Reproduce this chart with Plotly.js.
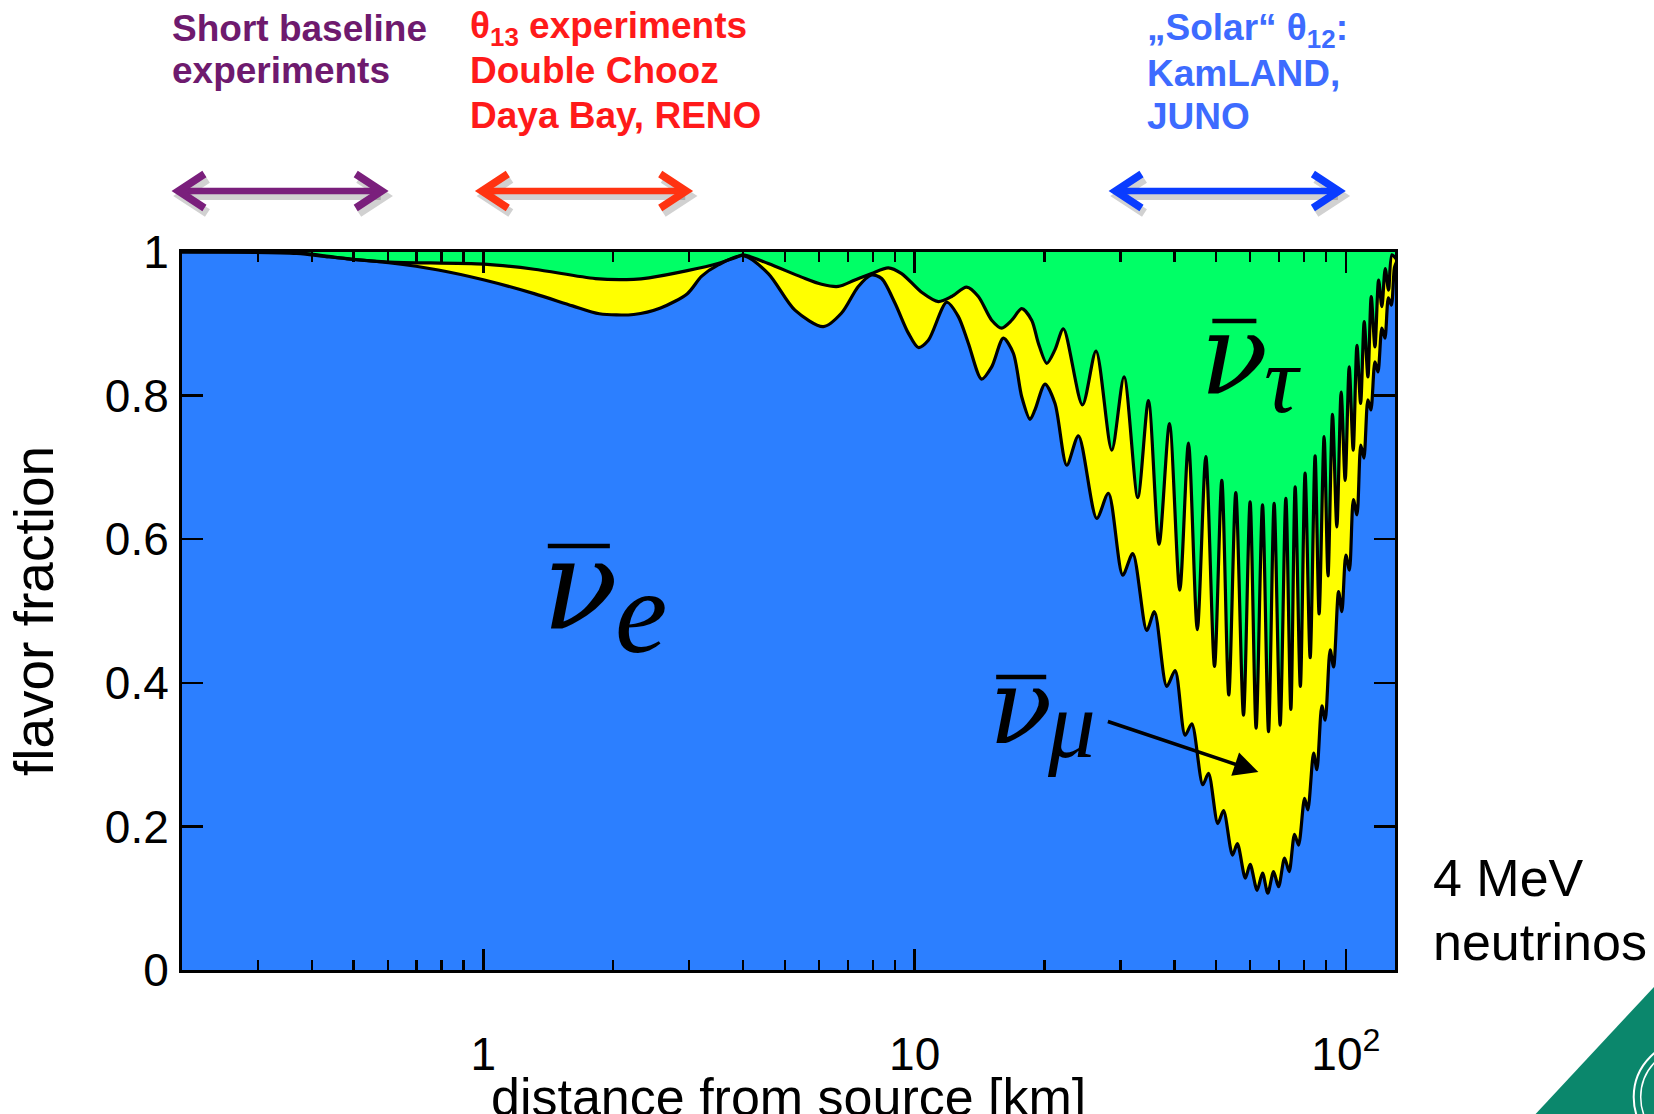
<!DOCTYPE html>
<html><head><meta charset="utf-8">
<script src="https://cdn.plot.ly/plotly-3.0.1.min.js"></script>
<style>html,body{margin:0;padding:0;background:#fff}#chart{width:1654px;height:1114px}</style>
</head><body><div id="chart"></div>
<script>
// Boundary between nu_e (blue) and nu_mu (yellow): P(ee)
const distEe = [
  0.2, 0.369, 0.439, 0.603, 0.786, 1.005, 1.311, 1.609, 1.857, 2.231,
  2.575, 2.971, 3.204, 3.504, 4.005, 4.577, 5.277, 6.141, 6.770, 7.403,
  7.947, 8.384, 9.000, 9.670, 10.20, 10.76, 11.87, 12.63, 13.32, 14.30,
  15.09, 16.06, 16.94, 17.72, 18.52, 19.01, 20.06, 21.16, 22.53, 23.98,
  26.44, 28.14, 30.38, 32.05, 34.53, 35.98, 38.43, 40.18, 42.38, 43.93,
  46.58, 48.02, 50.47, 52.03, 54.59, 56.02, 58.46, 59.98, 62.26, 64.08,
  65.92, 67.97, 69.81, 72.08, 73.87, 76.03, 77.68, 80.21, 81.63, 84.17,
  85.66, 87.97, 89.54, 91.96, 93.65, 96.18, 97.88, 100.0, 101.9, 104.1,
  106.1, 108.3, 110.1, 112.5, 114.3, 116.8, 118.7, 121.2, 123.2, 125.5,
  127.5, 129.6, 131.0];
const fracEe = [
  1.000, 0.998, 0.993, 0.985, 0.975, 0.961, 0.942, 0.925, 0.914, 0.913,
  0.922, 0.942, 0.966, 0.982, 0.995, 0.970, 0.919, 0.896, 0.915, 0.952,
  0.968, 0.963, 0.929, 0.887, 0.867, 0.877, 0.930, 0.910, 0.873, 0.823,
  0.840, 0.880, 0.859, 0.798, 0.767, 0.780, 0.816, 0.789, 0.703, 0.744,
  0.629, 0.664, 0.550, 0.580, 0.473, 0.499, 0.395, 0.417, 0.327, 0.343,
  0.258, 0.274, 0.204, 0.222, 0.160, 0.176, 0.128, 0.147, 0.111, 0.135,
  0.107, 0.137, 0.116, 0.156, 0.137, 0.189, 0.174, 0.239, 0.223, 0.302,
  0.279, 0.368, 0.348, 0.446, 0.422, 0.527, 0.499, 0.578, 0.557, 0.655,
  0.634, 0.731, 0.713, 0.794, 0.780, 0.847, 0.833, 0.894, 0.880, 0.936,
  0.926, 0.978, 0.986];

// Boundary between nu_mu (yellow) and nu_tau (green): P(ee)+P(e mu)
const distEeMu = [
  0.2, 0.369, 0.491, 0.603, 1.005, 1.311, 1.819, 2.231, 2.421, 2.971,
  3.499, 3.875, 4.005, 4.577, 5.468, 6.085, 6.652, 7.270, 7.947, 8.690,
  9.328, 10.38, 11.35, 12.19, 13.20, 14.05, 15.09, 15.92, 16.80, 17.72,
  18.68, 19.36, 20.25, 21.16, 22.13, 24.50, 26.34, 28.65, 30.59, 32.92,
  34.85, 36.88, 38.99, 41.19, 43.15, 45.24, 47.34, 49.59, 51.56, 53.52,
  55.56, 57.89, 59.97, 61.92, 64.08, 66.17, 68.18, 70.41, 72.58, 74.55,
  76.28, 78.43, 80.43, 82.65, 84.85, 86.69, 89.04, 90.91, 93.12, 95.30,
  97.52, 99.63, 101.8, 104.0, 106.1, 108.2, 110.3, 112.5, 114.5, 116.8,
  119.1, 121.2, 123.4, 125.6, 127.9, 131.0];
const fracEeMu = [
  1.000, 0.999, 0.990, 0.986, 0.983, 0.976, 0.963, 0.962, 0.964, 0.974,
  0.984, 0.993, 0.996, 0.984, 0.965, 0.955, 0.952, 0.961, 0.970, 0.978,
  0.970, 0.944, 0.931, 0.938, 0.951, 0.938, 0.905, 0.894, 0.905, 0.921,
  0.905, 0.873, 0.845, 0.864, 0.893, 0.787, 0.862, 0.724, 0.826, 0.658,
  0.793, 0.593, 0.761, 0.529, 0.734, 0.474, 0.715, 0.423, 0.682, 0.383,
  0.665, 0.355, 0.652, 0.337, 0.648, 0.332, 0.650, 0.341, 0.657, 0.363,
  0.673, 0.395, 0.692, 0.435, 0.716, 0.496, 0.743, 0.549, 0.774, 0.617,
  0.805, 0.682, 0.840, 0.724, 0.870, 0.789, 0.903, 0.826, 0.938, 0.868,
  0.961, 0.924, 0.977, 0.947, 0.996, 0.990];

const xRangeKm = [0.2, 130];
const xTickVals = [1, 10, 100];
const xTickText = ['1', '10', '10<sup>2</sup>'];
const xMinorVals = [0.3,0.4,0.5,0.6,0.7,0.8,0.9,2,3,4,5,6,7,8,9,20,30,40,50,60,70,80,90];
const yTickVals = [0, 0.2, 0.4, 0.6, 0.8, 1];
const yTickText = ['0', '0.2', '0.4', '0.6', '0.8', '1'];
const xTitle = 'distance from source [km]';
const yTitle = 'flavor fraction';

// experiment ranges (km) shown as double arrows above the plot
const arrowStartKm = [0.19, 0.96, 28.3];
const arrowEndKm = [0.60, 3.05, 99.5];
const arrowColors = ['#7a1f7c', '#ff3311', '#0a3cff'];

const BLUE = '#2c7fff', YELLOW = '#ffff00', GREEN = '#00ff66';

// page geometry helpers (pixel -> paper)
const PL = 182.5, PW = 1212, PB = 970, PH = 718;
const P = xf => (xf - PL) / PW;
const Q = yf => (PB - yf) / PH;
const lr = [Math.log10(xRangeKm[0]), Math.log10(xRangeKm[1])];
const kmToPaper = d => (Math.log10(d) - lr[0]) / (lr[1] - lr[0]);

const lineStyle = {shape: 'spline', smoothing: 0.8};
const traces = [
  {x: distEeMu, y: fracEeMu, mode: 'lines', fill: 'tozeroy', fillcolor: YELLOW,
   line: Object.assign({width: 0, color: YELLOW}, lineStyle), hoverinfo: 'skip', showlegend: false},
  {x: distEe, y: fracEe, mode: 'lines', fill: 'tozeroy', fillcolor: BLUE,
   line: Object.assign({width: 0, color: BLUE}, lineStyle), hoverinfo: 'skip', showlegend: false},
  {x: distEeMu, y: fracEeMu, mode: 'lines',
   line: Object.assign({width: 3.2, color: '#000'}, lineStyle), showlegend: false},
  {x: distEe, y: fracEe, mode: 'lines',
   line: Object.assign({width: 3.2, color: '#000'}, lineStyle), showlegend: false}
];

const shapes = [];
const arrowY = Q(191);
const headDx = 26 / PW, headDy = 17 / PH, inset = 6 / PW;
for (let i = 0; i < arrowStartKm.length; i++) {
  const xs = kmToPaper(arrowStartKm[i]) + inset, xe = kmToPaper(arrowEndKm[i]) - inset;
  const mk = (ox, oy, col, w) => {
    const y = arrowY + oy;
    shapes.push({type: 'line', xref: 'paper', yref: 'paper', x0: xs + ox + 4 / PW, x1: xe + ox - 4 / PW, y0: y, y1: y,
      line: {color: col, width: w}});
    shapes.push({type: 'path', xref: 'paper', yref: 'paper',
      path: `M ${xs + ox + headDx},${y + headDy} L ${xs + ox},${y} L ${xs + ox + headDx},${y - headDy}`,
      line: {color: col, width: w + 1}});
    shapes.push({type: 'path', xref: 'paper', yref: 'paper',
      path: `M ${xe + ox - headDx},${y + headDy} L ${xe + ox},${y} L ${xe + ox - headDx},${y - headDy}`,
      line: {color: col, width: w + 1}});
  };
  mk(3 / PW, -5 / PH, 'rgba(0,0,0,0.18)', 8);
  mk(0, 0, arrowColors[i], 6.5);
}
// nu-bar overlines
const bars = [[548, 610, 546], [1212, 1256, 321], [996, 1046, 677]];
bars.forEach(b => shapes.push({type: 'line', xref: 'paper', yref: 'paper',
  x0: P(b[0]), x1: P(b[1]), y0: Q(b[2]), y1: Q(b[2]), line: {color: '#000', width: 4.5}}));
// corner logo
shapes.push({type: 'path', xref: 'paper', yref: 'paper', fillcolor: '#0b876c', line: {width: 0},
  path: `M ${P(1535)},${Q(1114)} L ${P(1656)},${Q(984)} L ${P(1656)},${Q(1114)} Z`});
shapes.push({type: 'circle', xref: 'paper', yref: 'paper', x0: P(1633), x1: P(1747), y0: Q(1040), y1: Q(1154),
  line: {color: '#ffffff', width: 2}});
shapes.push({type: 'circle', xref: 'paper', yref: 'paper', x0: P(1640), x1: P(1740), y0: Q(1047), y1: Q(1147),
  line: {color: '#ffffff', width: 1.5}});

const BF = '"Liberation Sans", Arial, Helvetica, sans-serif';
const MF = '"DejaVu Serif", "Liberation Serif", serif';
const MF2 = '"Liberation Serif", serif';
const txt = (text, xf, yf, color, size, extra) => Object.assign({
  text, x: P(xf), y: Q(yf), xref: 'paper', yref: 'paper', showarrow: false,
  xanchor: 'left', yanchor: 'middle', font: {family: BF, size, color}}, extra || {});
const mathTxt = (text, xf, yf, size, fam) => txt(text, xf, yf, '#000', size,
  {xanchor: 'center', font: {family: fam, size, color: '#000'}});
const annotations = [
  txt('<b>Short baseline</b>', 171, 28, '#6e1a6e', 37),
  txt('<b>experiments</b>', 171, 70, '#6e1a6e', 37),
  txt('<b>θ<sub>13</sub> experiments</b>', 468, 28, '#ff1a1a', 37),
  txt('<b>Double Chooz</b>', 468, 70, '#ff1a1a', 37),
  txt('<b>Daya Bay, RENO</b>', 468, 115, '#ff1a1a', 37),
  txt('<b>„Solar“ θ<sub>12</sub>:</b>', 1145, 30, '#3d6bff', 37),
  txt('<b>KamLAND,</b>', 1145, 73, '#3d6bff', 37),
  txt('<b>JUNO</b>', 1145, 117, '#3d6bff', 37),
  txt('4 MeV', 1430, 878, '#000', 52),
  txt('neutrinos', 1430, 942, '#000', 52),
  // x-axis title (partly below the page edge, as in the original)
  txt(xTitle, 788.5, 1097, '#000', 52, {xanchor: 'center'}),
  // flavour labels
  mathTxt('<i>ν</i>', 580, 585, 125, MF),
  mathTxt('<i>e</i>', 641, 612, 118, MF2),
  mathTxt('<i>ν</i>', 1234, 355, 112, MF),
  mathTxt('<i>τ</i>', 1282, 380, 95, MF2),
  mathTxt('<i>ν</i>', 1020, 707, 104, MF),
  mathTxt('<i>μ</i>', 1071, 725, 95, MF2),
  // arrow pointing at the nu_mu region
  {text: '', x: P(1258), y: Q(772), xref: 'paper', yref: 'paper', showarrow: true,
   ax: -152, ay: -51, arrowhead: 2, arrowsize: 1.4, arrowwidth: 3.5, arrowcolor: '#000', standoff: 0}
];

const axisCommon = {
  showline: true, linecolor: '#000', linewidth: 3, mirror: 'allticks',
  ticks: 'inside', ticklen: 21, tickwidth: 2.5, tickcolor: '#000',
  showgrid: false, zeroline: false, automargin: false,
  tickfont: {family: BF, size: 46, color: '#000'}
};
const layout = {
  width: 1654, height: 1114,
  margin: {l: 182, r: 259, t: 252, b: 144, pad: 0},
  paper_bgcolor: '#fff', plot_bgcolor: GREEN,
  showlegend: false,
  xaxis: Object.assign({}, axisCommon, {
    type: 'log', range: lr, tickmode: 'array', tickvals: xTickVals, ticktext: xTickText,
    minor: {tickmode: 'array', tickvals: xMinorVals, ticks: 'inside', ticklen: 10, tickwidth: 2.5, tickcolor: '#000', showgrid: false},
    ticklabelstandoff: 42
  }),
  yaxis: Object.assign({}, axisCommon, {
    range: [0, 1], tickmode: 'array', tickvals: yTickVals, ticktext: yTickText,
    ticklabelstandoff: 1,
    title: {text: yTitle, font: {family: BF, size: 55, color: '#000'}, standoff: 34}
  }),
  shapes, annotations
};
Plotly.newPlot('chart', traces, layout, {displayModeBar: false, staticPlot: true});
</script></body></html>
